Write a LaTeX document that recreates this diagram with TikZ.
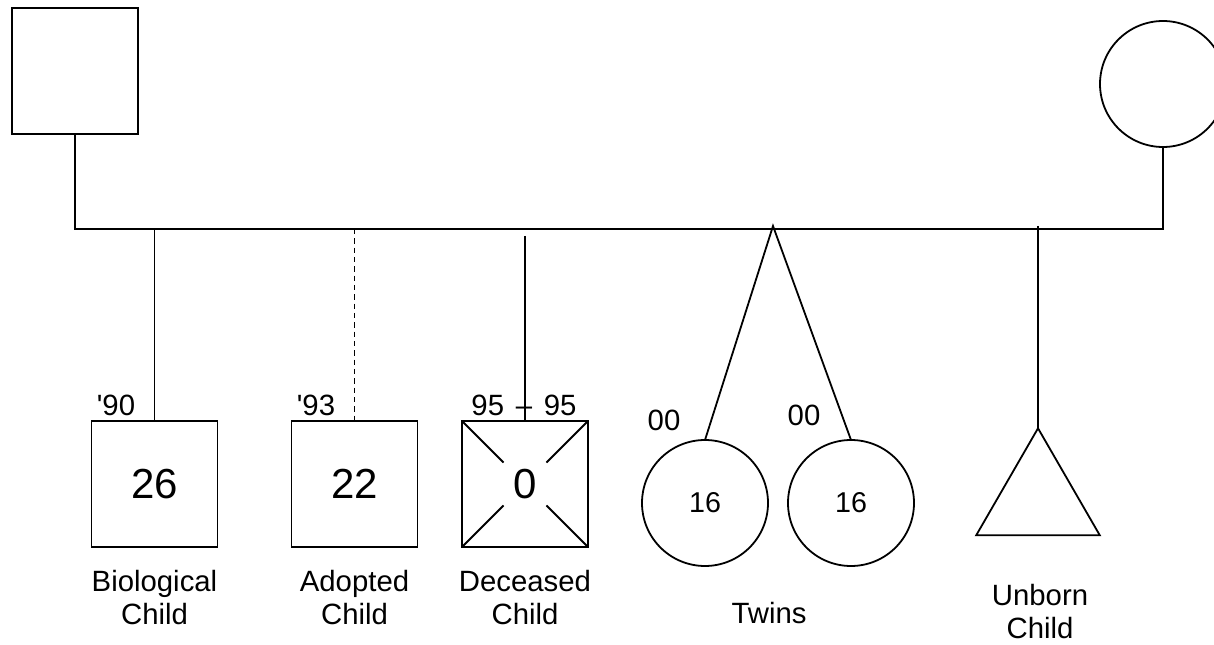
\documentclass[tikz,border=0pt]{standalone}
\usepackage{fontspec}
\setmainfont{Liberation Sans}
\usetikzlibrary{shapes.geometric,calc}
\begin{document}
\begin{tikzpicture}[x=0.75pt,y=-0.75pt,
  line width=1.35pt,
  sq/.style={draw,rectangle,minimum size=94.5pt,inner sep=0pt,outer sep=0pt,font=\fontsize{31.5}{36}\selectfont},
  circ/.style={draw,circle,minimum size=94.5pt,inner sep=0pt,outer sep=0pt,font=\fontsize{21.5}{24.75}\selectfont},
  small/.style={font=\fontsize{22}{24.75}\selectfont,inner sep=0pt},
  yr/.style={small,anchor=base},
  lbl/.style={small,align=center},
  adopt/.style={dash pattern=on 4pt off 3pt}]
\useasboundingbox (0,0) rectangle (1214,645);
% parents
\node[sq] (father) at (75,71) {};
\node[circ] (mother) at (1163,84) {};
\coordinate (fl) at (75,229);
\coordinate (mr) at (1163,229);
\draw (father.south) -- (fl) -- (mr) -- (mother.south);
% biological child
\node[sq] (bio) at (154.5,484) {26};
\coordinate (bioTop) at (154.5,229);
\draw (bioTop) -- (bio.north);
\node[yr] (y90) at (116,415) {\textquotesingle90};
\node[lbl] (bioL) at (154.5,598) {Biological\\Child};
% adopted child
\node[sq] (ado) at (354.5,484) {22};
\coordinate (adoTop) at (354.5,229);
\draw[adopt] (adoTop) -- (ado.north);
\node[yr] (y93) at (316,415) {\textquotesingle93};
\node[lbl] (adoL) at (354.5,598) {Adopted\\Child};
% deceased child
\node[sq] (dec) at (525,484) {0};
\coordinate (decTop) at (525,236);
\draw (decTop) -- (dec.north);
\node[yr] (y95) at (524,415) {95\hspace{0.4em}\textendash\hspace{0.4em}95};
\draw (dec.north west) -- ($(dec.north west)!0.66!(dec.center)$);
\draw (dec.north east) -- ($(dec.north east)!0.66!(dec.center)$);
\draw (dec.south west) -- ($(dec.south west)!0.66!(dec.center)$);
\draw (dec.south east) -- ($(dec.south east)!0.66!(dec.center)$);
\node[lbl] (decL) at (525,598) {Deceased\\Child};
% twins
\node[circ] (twA) at (705,503) {16};
\node[circ] (twB) at (851,503) {16};
\coordinate (tw) at (773,226);
\draw (twA.north) -- (tw) -- (twB.north);
\node[yr] (y00a) at (664,430) {00};
\node[yr] (y00b) at (804,425) {00};
\node[yr] (twL) at (769,623) {Twins};
% unborn
\node[draw,regular polygon,regular polygon sides=3,minimum size=107pt,inner sep=0pt,outer sep=0pt] (unb) at (1038,499.6) {};
\coordinate (unbTop) at (1038,226);
\draw (unbTop) -- (unb.corner 1);
\node[lbl] (unbL) at (1040,612) {Unborn\\Child};
\end{tikzpicture}
\end{document}
